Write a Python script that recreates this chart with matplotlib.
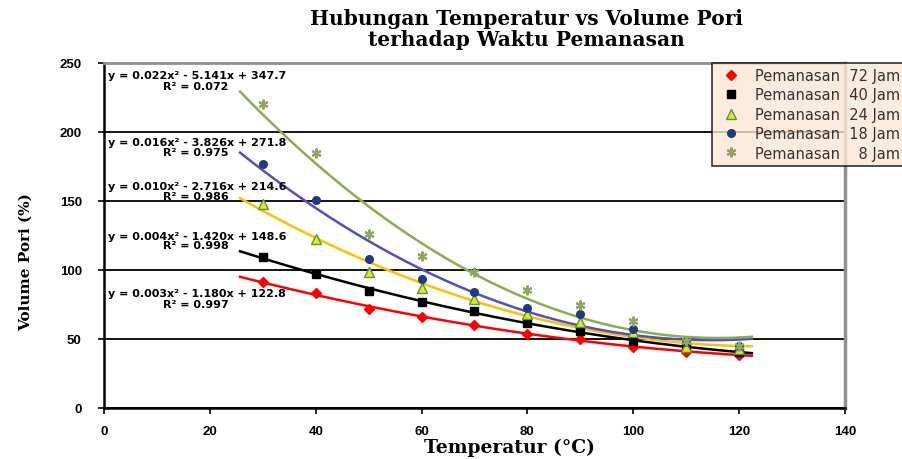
import numpy as np
import matplotlib
matplotlib.use("Agg")
import matplotlib.pyplot as plt

# suhu pemanasan (C) dan volume pori (%) untuk tiap waktu pemanasan
temperatur = [30, 40, 50, 60, 70, 80, 90, 100, 110, 120]
pori_72 = [91, 83, 72, 66, 60.4, 53.6, 50, 44, 40.8, 38.4]
pori_40 = [109.4, 97, 85, 77, 70, 61.5, 56, 48.5, 44, 40.5]
pori_24 = [148, 122.5, 98.5, 87, 79, 68, 62.5, 55, 44, 43]
pori_18 = [176.8, 150.7, 108, 93.5, 84, 72.5, 68, 57, 48, 45]
pori_8 = [220, 184.8, 126, 110, 98.5, 85.5, 74.6, 63, 48.6, 45]

labels = ["Pemanasan  72 Jam", "Pemanasan  40 Jam", "Pemanasan  24 Jam",
          "Pemanasan  18 Jam", "Pemanasan    8 Jam"]
persamaan = [
    ("y = 0.003x\u00b2 - 1.180x + 122.8", "R\u00b2 = 0.997"),
    ("y = 0.004x\u00b2 - 1.420x + 148.6", "R\u00b2 = 0.998"),
    ("y = 0.010x\u00b2 - 2.716x + 214.6", "R\u00b2 = 0.986"),
    ("y = 0.016x\u00b2 - 3.826x + 271.8", "R\u00b2 = 0.975"),
    ("y = 0.022x\u00b2 - 5.141x + 347.7", "R\u00b2 = 0.072"),
]
# posisi teks persamaan: (x kiri, y baris persamaan, y baris R2)
pos_teks = [(0.8, 83, 75), (0.8, 124.6, 118), (0.8, 161, 153.6),
            (0.8, 192.7, 185.5), (0.8, 241, 233)]

series = [pori_72, pori_40, pori_24, pori_18, pori_8]
line_colors = ["#ff0000", "#000000", "#ffc000", "#5050c0", "#8cac52"]
mk = [
    dict(marker="D", ms=5, mfc="#ff0000", mec="#ff0000"),
    dict(marker="s", ms=5.5, mfc="#000000", mec="#000000"),
    dict(marker="^", ms=6.5, mfc="#f0e020", mec="#40a040", mew=1),
    dict(marker="o", ms=5.5, mfc="#1f3a80", mec="#1f3a80"),
    dict(marker=(6, 2, 0), ms=7, mfc="#8ca860", mec="#8ca860", mew=1.5),
]

fig = plt.figure(figsize=(9.02, 4.60), dpi=100)
ax = fig.add_axes([0.1153, 0.1109, 0.8215, 0.75])

x = np.array(temperatur)
xs = np.linspace(25.7, 122.4, 200)
for y, c, m, lab in zip(series, line_colors, mk, labels):
    # trendline polinomial orde 2
    coef = np.polyfit(x, y, 2)
    ax.plot(xs, np.polyval(coef, xs), color=c, lw=1.8, zorder=2)
    ax.plot(x, y, ls="none", label=lab, zorder=3, **m)

for (eq, r2), (tx, ty, ry) in zip(persamaan, pos_teks):
    ax.text(tx, ty, eq, fontsize=8, fontweight="bold",
            family="DejaVu Sans", ha="left", va="center")
    ax.text(17.4, ry, r2, fontsize=8, fontweight="bold",
            family="DejaVu Sans", ha="center", va="center")

ax.set_xlim(0, 140)
ax.set_ylim(0, 250)
ax.set_xticks(range(0, 141, 20))
ax.set_yticks(range(0, 251, 50))
ax.yaxis.grid(True, color="black", lw=1.3)
ax.set_axisbelow(True)
for lab in ax.get_xticklabels() + ax.get_yticklabels():
    lab.set_fontweight("bold")
    lab.set_family("Liberation Sans")
    lab.set_fontsize(9.5)
ax.tick_params(axis="x", direction="out", length=4, width=1.2, pad=8)
ax.tick_params(axis="y", direction="out", length=4, width=1.2, pad=12)
ax.spines["left"].set_linewidth(1.8)
ax.spines["bottom"].set_linewidth(1.8)
ax.spines["top"].set_color("#909090")
ax.spines["top"].set_linewidth(2)
ax.spines["right"].set_color("#909090")
ax.spines["right"].set_linewidth(2.5)

fig.text(0.565, 0.027, "Temperatur (\u00b0C)", family="DejaVu Serif",
         fontweight="bold", fontsize=13.5, ha="center", va="center")
fig.text(0.028, 0.43, "Volume Pori (%)", family="DejaVu Serif",
         fontweight="bold", fontsize=11, rotation=90,
         ha="center", va="center")
fig.text(0.584, 0.958, "Hubungan Temperatur vs Volume Pori",
         family="DejaVu Serif", fontweight="bold", fontsize=14.5,
         ha="center", va="center")
fig.text(0.584, 0.912, "terhadap Waktu Pemanasan",
         family="DejaVu Serif", fontweight="bold", fontsize=14.5,
         ha="center", va="center")

leg = fig.legend(loc="upper left", bbox_to_anchor=(0.789, 0.861),
                 borderaxespad=0, frameon=True, fancybox=False,
                 shadow=False, prop={"family": "DejaVu Sans", "size": 10.5},
                 handlelength=2.0, handletextpad=0.6, labelspacing=0.3,
                 borderpad=0.35)
leg.get_frame().set_facecolor("#fde6d6")
leg.get_frame().set_edgecolor("black")
leg.get_frame().set_linewidth(1.2)
for t in leg.get_texts():
    t.set_color("#333333")

fig.savefig("out.png", dpi=100)
